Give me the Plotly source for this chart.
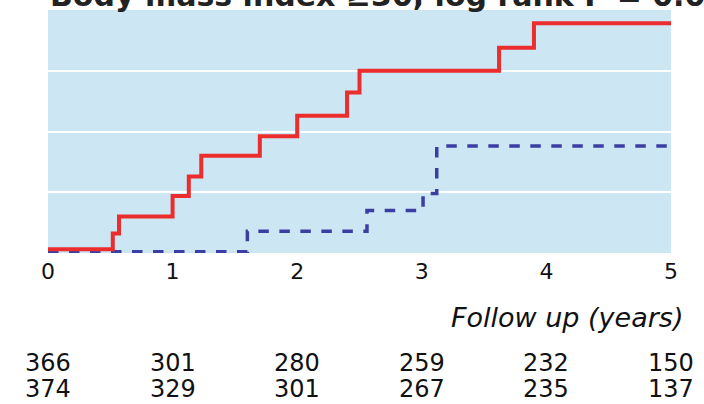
import plotly.graph_objects as go

# Data
red_x = [0, 0.52, 0.57, 1.0, 1.13, 1.23, 1.70, 2.0, 2.40, 2.50, 3.62, 3.90, 5.0]
red_y = [0.003, 0.016, 0.030, 0.047, 0.063, 0.080, 0.096, 0.113, 0.132, 0.150, 0.169, 0.189, 0.189]
blue_x = [0, 1.60, 2.56, 3.01, 3.12, 5.0]
blue_y = [0.001, 0.018, 0.035, 0.049, 0.088, 0.088]
x_ticks = [0, 1, 2, 3, 4, 5]
risk_row1 = [366, 301, 280, 259, 232, 150]
risk_row2 = [374, 329, 301, 267, 235, 137]
title_text = "Body mass index \u226530, log rank P = 0.03"
xlabel = "Follow up (years)"

W, H = 704, 404
L, R, T, B = 48, 33, 10, 151

fig = go.Figure()
fig.add_trace(go.Scatter(x=blue_x, y=blue_y, mode="lines", line_shape="hv",
                         line=dict(color="#3b3fa3", width=3.5, dash="dash"),
                         showlegend=False, hoverinfo="skip"))
fig.add_trace(go.Scatter(x=red_x, y=red_y, mode="lines", line_shape="hv",
                         line=dict(color="#ec2d2d", width=4),
                         showlegend=False, hoverinfo="skip"))

font_family = "DejaVu Sans, Liberation Sans, Arial, sans-serif"

fig.update_layout(
    width=W, height=H,
    margin=dict(l=L, r=R, t=T, b=B),
    paper_bgcolor="white",
    plot_bgcolor="#cde6f4",
    font=dict(family=font_family, color="#111111"),
    xaxis=dict(range=[0, 5], tickvals=x_ticks, ticktext=[str(t) for t in x_ticks],
               showgrid=False, zeroline=False, showline=False, ticks="",
               ticklabelstandoff=3,
               tickfont=dict(size=22, color="#111111")),
    yaxis=dict(range=[0, 0.2], dtick=0.05, showgrid=True, gridcolor="white", gridwidth=2,
               zeroline=False, showline=False, showticklabels=False, ticks=""),
)

annotations = []
annotations.append(dict(text="<b>" + title_text + "</b>", xref="paper", yref="paper",
                        x=0, y=1, xanchor="left", yanchor="bottom", yshift=-5,
                        showarrow=False, font=dict(size=30, color="#222222")))
annotations.append(dict(text="<i>" + xlabel + "</i>", xref="paper", yref="paper",
                        x=1, y=0, xanchor="right", yanchor="middle", xshift=14, yshift=-64,
                        showarrow=False, font=dict(size=27, color="#111111")))
for xv, a, b in zip(x_ticks, risk_row1, risk_row2):
    annotations.append(dict(text=str(a), xref="x", yref="paper", x=xv, y=0,
                            xanchor="center", yanchor="middle", yshift=-110, borderpad=0,
                            showarrow=False, font=dict(size=24, color="#111111")))
    annotations.append(dict(text=str(b), xref="x", yref="paper", x=xv, y=0,
                            xanchor="center", yanchor="middle", yshift=-136, borderpad=0,
                            showarrow=False, font=dict(size=24, color="#111111")))
fig.update_layout(annotations=annotations)

fig.write_html("out.html", config={"displayModeBar": False},
               post_script="document.body.style.margin='0';document.body.style.overflow='hidden';")
